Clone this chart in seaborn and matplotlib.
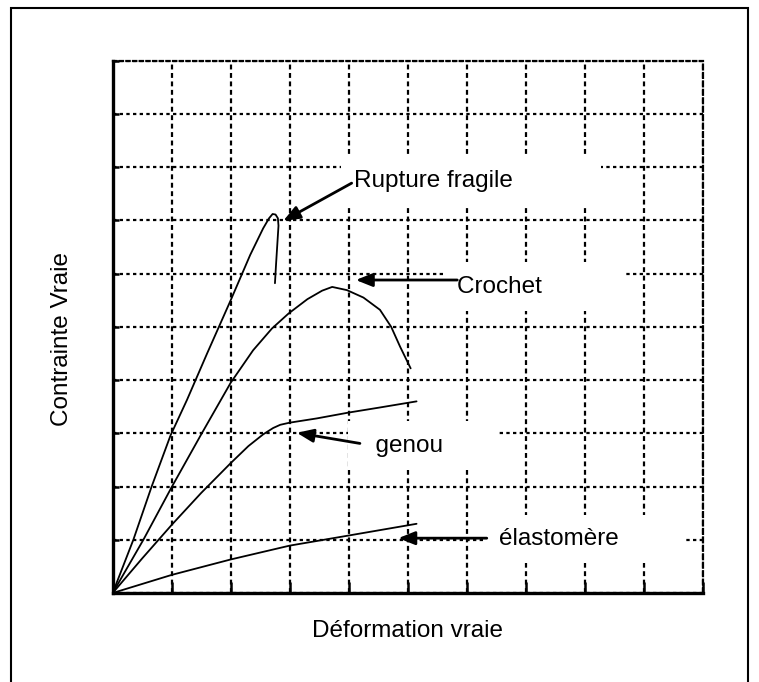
import numpy as np
import pandas as pd
import matplotlib
matplotlib.use("Agg")
import matplotlib.pyplot as plt
from matplotlib.patches import Rectangle
import seaborn as sns

# ---- data (grid units: 10 x 10 divisions) ----
fragile_x = [0, 0.35, 0.66, 0.98, 1.26, 1.6, 2.0, 2.33, 2.55, 2.65, 2.71, 2.76, 2.80, 2.81, 2.79, 2.77, 2.75]
fragile_y = [0, 1.0, 2.0, 2.96, 3.63, 4.5, 5.5, 6.35, 6.85, 7.04, 7.12, 7.11, 7.04, 6.9, 6.55, 6.2, 5.82]

crochet_x = [0, 0.52, 1.0, 1.5, 2.0, 2.38, 2.7, 2.98, 3.3, 3.55, 3.72, 3.97, 4.25, 4.53, 4.72, 4.87, 5.05]
crochet_y = [0, 1.0, 1.99, 2.98, 3.95, 4.56, 4.97, 5.25, 5.52, 5.68, 5.75, 5.69, 5.55, 5.32, 5.0, 4.63, 4.22]

genou_x = [0, 0.5, 1.0, 1.5, 2.0, 2.3, 2.55, 2.72, 2.84, 3.0, 3.46, 4.0, 4.5, 5.15]
genou_y = [0, 0.65, 1.28, 1.88, 2.44, 2.76, 2.98, 3.1, 3.16, 3.2, 3.28, 3.39, 3.48, 3.6]

elasto_x = [0, 1.0, 2.0, 3.0, 4.0, 5.15]
elasto_y = [0, 0.34, 0.63, 0.89, 1.08, 1.30]

labels = ["Rupture fragile", "Crochet", "genou", "élastomère"]
label_xy = [(4.09, 7.62), (5.84, 5.64), (4.22, 2.655), (6.55, 0.90)]
arrow_tail = [(4.05, 7.70), (5.84, 5.88), (4.19, 2.81), (6.34, 1.03)]
arrow_head = [(2.89, 6.99), (4.12, 5.88), (3.12, 3.01), (4.84, 1.03)]
# non-breaking spaces used to widen the white label boxes (lead, trail)
label_space = [(0, 11), (0, 10), (2, 6), (0, 8)]

xlabel = "Déformation vraie"
ylabel = "Contrainte Vraie"
grid_ticks = list(range(0, 11))

frames = []
for name, xs, ys in [("fragile", fragile_x, fragile_y), ("crochet", crochet_x, crochet_y),
                     ("genou", genou_x, genou_y), ("elasto", elasto_x, elasto_y)]:
    frames.append(pd.DataFrame({"curve": name, "x": xs, "y": ys}))
df = pd.concat(frames, ignore_index=True)

# ---- figure ----
sns.set_theme(style="white")
plt.rcParams["font.family"] = ["Liberation Sans", "DejaVu Sans"]

W, H = 759, 682
fig = plt.figure(figsize=(W / 100, H / 100), dpi=100)
ax = fig.add_axes([112.7 / W, 89 / H, 590 / W, 532.3 / H])

sns.lineplot(data=df, x="x", y="y", units="curve", estimator=None, sort=False,
             color="black", lw=1.3, ax=ax, zorder=4, legend=False)

ax.set_xlim(0, 10)
ax.set_ylim(0, 10)
ax.set_xticks(grid_ticks)
ax.set_yticks(grid_ticks)
ax.set_xticklabels([])
ax.set_yticklabels([])
ax.set_axisbelow(True)
ax.xaxis.grid(True, color="black", lw=1.6, linestyle=(0, (2.2, 1.6)))
ax.yaxis.grid(True, color="black", lw=1.6, linestyle=(0, (1.5, 1.5)))
ax.tick_params(axis="x", direction="in", length=8, width=1.8, color="black", bottom=True)
ax.tick_params(axis="y", direction="in", length=4, width=1.8, color="black", left=True)

for s in ["left", "bottom"]:
    ax.spines[s].set_color("black")
    ax.spines[s].set_linewidth(2.4)
ax.spines["top"].set_color("black")
ax.spines["top"].set_linewidth(1.6)
ax.spines["top"].set_linestyle((0, (1.5, 1.5)))
ax.spines["right"].set_color("black")
ax.spines["right"].set_linewidth(1.6)
ax.spines["right"].set_linestyle((0, (2.2, 1.6)))

fs = 17.5
ax.set_xlabel(xlabel, fontsize=fs, color="black")
ax.set_ylabel(ylabel, fontsize=fs, color="black")
ax.xaxis.set_label_coords(0.5, -0.05)
ax.yaxis.set_label_coords(-0.067, 0.477)

nb = "\u00a0"
for lab, (tx, ty), (lead, trail) in zip(labels, label_xy, label_space):
    ax.text(tx, ty, nb * lead + lab + nb * trail, fontsize=fs, color="black",
            ha="left", va="baseline", zorder=3,
            bbox=dict(boxstyle="square,pad=0.55", fc="white", ec="none"))

for (x0, y0), (x1, y1) in zip(arrow_tail, arrow_head):
    ax.annotate("", xy=(x1, y1), xytext=(x0, y0), zorder=5,
                arrowprops=dict(arrowstyle="-|>,head_length=1.0,head_width=0.4",
                                mutation_scale=10, color="black", lw=2.0,
                                shrinkA=0, shrinkB=0))

# outer frame
fig.patches.append(Rectangle((10.7 / W, -3 / H), (748 - 10.7) / W, (H - 8 + 3) / H,
                             transform=fig.transFigure, fill=False, ec="black", lw=1.5))

fig.savefig("out.png", dpi=100, facecolor="white")
